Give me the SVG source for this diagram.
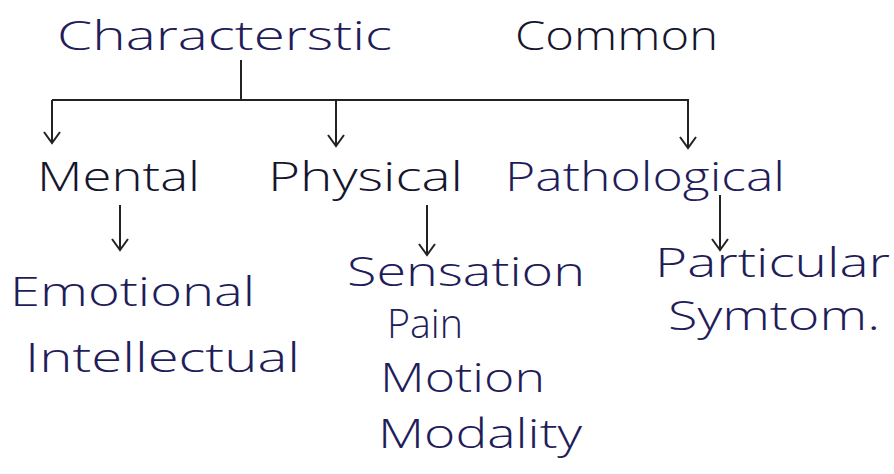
<svg xmlns="http://www.w3.org/2000/svg" width="894" height="474" viewBox="0 0 894 474">
<defs>
<style>
text{font-family:"Open Sans","Liberation Sans","DejaVu Sans",sans-serif;font-weight:300;font-size:40px;fill:#1f1d5a}
.dk{fill:#16152e}
.ln{stroke:#222;stroke-width:2;fill:none}
</style>
<marker id="ah" markerWidth="20" markerHeight="20" refX="14" refY="10" orient="auto" markerUnits="userSpaceOnUse" viewBox="0 0 20 20">
<polyline points="3,2 14,10 3,18" fill="none" stroke="#222" stroke-width="2"/>
</marker>
</defs>
<rect width="894" height="474" fill="#fff"/>
<g id="connectors" class="ln">
<line x1="241" y1="60" x2="241" y2="100"/>
<line x1="52" y1="100" x2="689" y2="100"/>
<line x1="52" y1="100" x2="52" y2="143" marker-end="url(#ah)"/>
<line x1="336" y1="100" x2="336" y2="146" marker-end="url(#ah)"/>
<line x1="688" y1="100" x2="688" y2="148" marker-end="url(#ah)"/>
<line x1="120" y1="205" x2="120" y2="250" marker-end="url(#ah)"/>
<line x1="427" y1="205" x2="427" y2="255" marker-end="url(#ah)"/>
<line x1="720" y1="195" x2="720" y2="250" marker-end="url(#ah)"/>
</g>
<g id="characterstic"><text x="57" y="50" textLength="335" lengthAdjust="spacingAndGlyphs" font-size="44">Characterstic</text></g>
<g id="common"><text class="dk" x="515" y="50" textLength="203" lengthAdjust="spacingAndGlyphs" font-size="42">Common</text></g>
<g id="mental"><text class="dk" x="37" y="191" textLength="163" lengthAdjust="spacingAndGlyphs">Mental</text></g>
<g id="physical"><text class="dk" x="268" y="191" textLength="195" lengthAdjust="spacingAndGlyphs">Physical</text></g>
<g id="pathological"><text x="505" y="191" textLength="280" lengthAdjust="spacingAndGlyphs">Pathological</text></g>
<g id="emotional"><text x="10" y="306" textLength="245" lengthAdjust="spacingAndGlyphs">Emotional</text></g>
<g id="intellectual"><text x="25" y="372" textLength="275" lengthAdjust="spacingAndGlyphs">Intellectual</text></g>
<g id="sensation"><text x="347" y="286" textLength="238" lengthAdjust="spacingAndGlyphs">Sensation</text></g>
<g id="pain"><text x="387" y="338" textLength="76" lengthAdjust="spacingAndGlyphs">Pain</text></g>
<g id="motion"><text x="380" y="392" textLength="165" lengthAdjust="spacingAndGlyphs">Motion</text></g>
<g id="modality"><text x="378" y="448" textLength="204" lengthAdjust="spacingAndGlyphs">Modality</text></g>
<g id="particular"><text x="655" y="277" textLength="235" lengthAdjust="spacingAndGlyphs" font-size="35">Particular</text></g>
<g id="symtom"><text x="668" y="330" textLength="212" lengthAdjust="spacingAndGlyphs" font-size="35">Symtom.</text></g>
</svg>
